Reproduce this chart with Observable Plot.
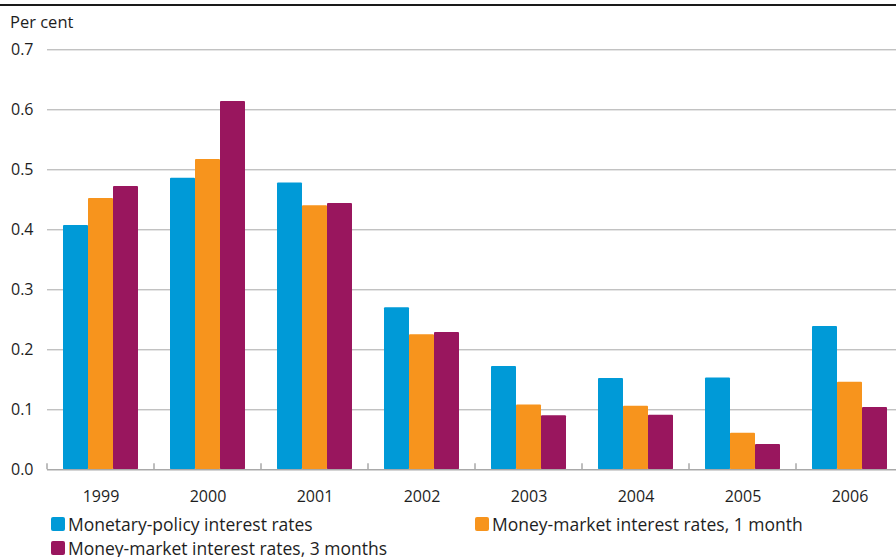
<!DOCTYPE html>
<html>
<head>
<meta charset="utf-8">
<script src="https://cdn.jsdelivr.net/npm/d3@7"></script>
<script src="https://cdn.jsdelivr.net/npm/@observablehq/plot@0.6"></script>
<style>
  html, body { margin: 0; padding: 0; background: #fff; overflow: hidden; }
  body { width: 896px; height: 557px; position: relative; font-family: "Open Sans", sans-serif; color: #1e1e1e; }
  #topline { position: absolute; left: 0; top: 4px; width: 896px; border-top: 2.6px solid #1a1a1a; }
  #unit { position: absolute; left: 10px; top: 12px; font-size: 16.5px; line-height: 20px; }
  #chart { position: absolute; left: 0; top: 0; }
  #chart svg { overflow: hidden; }
  #legend { position: absolute; left: 51px; top: 515px; display: grid; grid-template-columns: 424px 400px; row-gap: 6px; font-size: 17.5px; line-height: 18px; }
  .item { display: flex; align-items: center; white-space: nowrap; }
  .sw { width: 14px; height: 14px; border-radius: 2px; margin-right: 3px; flex: none; }
</style>
</head>
<body>
<div id="topline"></div>
<div id="chart"></div>
<div id="unit">Per cent</div>
<div id="legend"></div>
<script>
// Annual averages, per cent
const years = ["1999", "2000", "2001", "2002", "2003", "2004", "2005", "2006"];
const seriesNames = [
  "Monetary-policy interest rates",
  "Money-market interest rates, 1 month",
  "Money-market interest rates, 3 months"
];
const policyRates = [0.407, 0.486, 0.478, 0.270, 0.172, 0.152, 0.153, 0.239];
const oneMonthRates = [0.452, 0.517, 0.440, 0.225, 0.108, 0.106, 0.061, 0.146];
const threeMonthRates = [0.472, 0.614, 0.444, 0.229, 0.090, 0.091, 0.042, 0.104];
const seriesColors = ["#009ad7", "#f7941d", "#99165e"];
const yTicks = [0, 0.1, 0.2, 0.3, 0.4, 0.5, 0.6, 0.7];

const valuesBySeries = [policyRates, oneMonthRates, threeMonthRates];
const table = years.flatMap((year, i) =>
  seriesNames.map((name, s) => ({year, series: name, value: valuesBySeries[s][i]}))
);

const plot = Plot.plot({
  width: 896,
  height: 510,
  marginTop: 49.3,
  marginBottom: 40.7,
  marginLeft: 47,
  marginRight: -7,
  style: {fontFamily: "'Open Sans', sans-serif", fontSize: "16px", color: "#1e1e1e", background: "transparent"},
  facet: {data: table, x: "year"},
  fx: {domain: years, paddingInner: 0, paddingOuter: 0, axis: "bottom", tickSize: 0, tickPadding: 21, label: null},
  x: {domain: seriesNames, paddingInner: 0, paddingOuter: 0.558, axis: null},
  y: {domain: [0, 0.7], ticks: yTicks, tickFormat: d3.format(".1f"), tickSize: 0, tickPadding: 14, label: null},
  color: {domain: seriesNames, range: seriesColors},
  marks: [
    Plot.gridY(yTicks.filter(v => v > 0), {stroke: "#a9a9a9", strokeOpacity: 1, strokeWidth: 1}),
    Plot.barY(table, {x: "series", y: "value", fill: "series", insetLeft: 0, insetRight: 0, rx: 1}),
    Plot.ruleY([0], {stroke: "#a9a9a9", strokeWidth: 1.5})
  ]
});
document.getElementById("chart").appendChild(plot);

// Small ticks on the baseline separating the year groups
const fx = plot.scale("fx");
const y = plot.scale("y");
const bounds = years.map(d => fx.apply(d)).concat([fx.apply(years[years.length - 1]) + fx.bandwidth]);
d3.select(plot).append("g")
  .attr("stroke", "#a9a9a9")
  .attr("stroke-width", 1.5)
  .selectAll("line")
  .data(bounds)
  .join("line")
  .attr("x1", d => d).attr("x2", d => d)
  .attr("y1", y.apply(0) - 6).attr("y2", y.apply(0));

// Legend
const legend = d3.select("#legend");
seriesNames.forEach((name, i) => {
  const item = legend.append("div").attr("class", "item");
  item.append("span").attr("class", "sw").style("background", seriesColors[i]);
  item.append("span").text(name);
});
</script>
</body>
</html>
